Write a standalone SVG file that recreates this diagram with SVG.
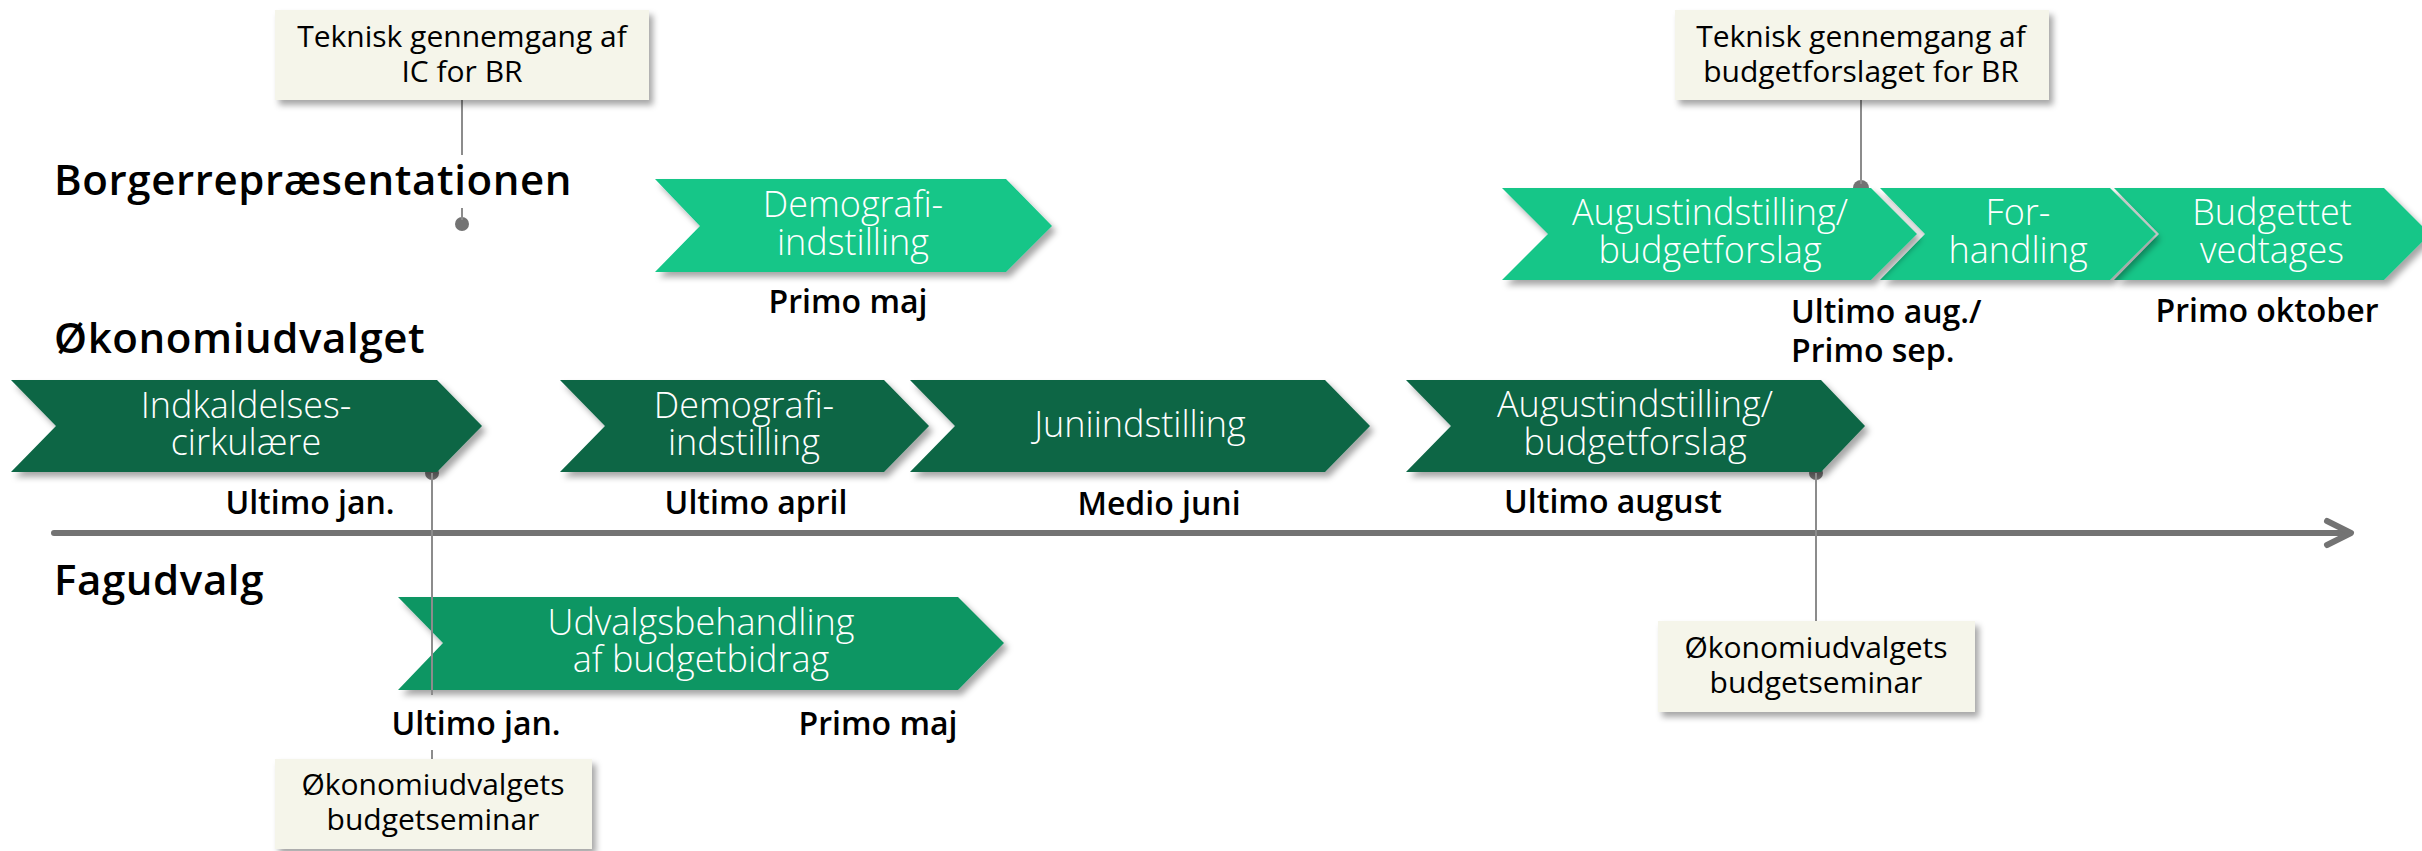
<svg xmlns="http://www.w3.org/2000/svg" width="2422" height="851" viewBox="0 0 2422 851">
<defs>
<filter id="sh" x="-10%" y="-20%" width="125%" height="150%">
<feDropShadow dx="4" dy="5" stdDeviation="3" flood-color="#000" flood-opacity="0.35"/>
</filter>
<style>
.lane{font-family:"Open Sans","Noto Sans",sans-serif;font-weight:600;font-size:42px;letter-spacing:0.6px;fill:#000}
.ct{font-family:"Open Sans","Noto Sans",sans-serif;font-weight:300;font-size:36px;fill:#fff;text-anchor:middle}
.dt{font-family:"Open Sans","Noto Sans",sans-serif;font-weight:600;font-size:32px;fill:#000;text-anchor:middle}
.bt{font-family:"Open Sans","Noto Sans",sans-serif;font-weight:400;font-size:30px;fill:#000;text-anchor:middle}
.dk{fill:#0B6645;filter:url(#sh)}
.lt{fill:#12C688;filter:url(#sh)}
.md{fill:#0F9664;filter:url(#sh)}
.box{fill:#F5F5EA;filter:url(#sh)}
.cn{stroke:#8C8C8C;stroke-width:2;fill:none}
.dot{fill:#737373}
.axis{stroke:#737373;stroke-width:6;fill:none;stroke-linecap:round;stroke-linejoin:round}
</style>
</defs>
<rect width="2422" height="851" fill="#fff"/>

<g id="lanes">
<text class="lane" x="54" y="195">Borgerrepræsentationen</text>
<text class="lane" x="54" y="353">Økonomiudvalget</text>
<text class="lane" x="54" y="595">Fagudvalg</text>
</g>

<g id="axis">
<line class="axis" x1="54" y1="533" x2="2348" y2="533"/>
<polyline class="axis" points="2327,521 2351,533 2327,545"/>
</g>

<g id="dots">
<circle class="dot" cx="432" cy="473" r="7"/>
<circle class="dot" cx="1816" cy="473" r="7"/>
<circle class="dot" cx="1861" cy="188" r="8"/>
<circle class="dot" cx="462" cy="224" r="7"/>
</g>

<g id="n-indkaldelse">
<polygon class="dk" points="11,380 437,380 482,426 437,472 11,472 56,426"/>
<text class="ct"><tspan x="246" y="418">Indkaldelses-</tspan><tspan x="246" y="455">cirkulære</tspan></text>
<text class="dt" x="310" y="514">Ultimo jan.</text>
</g>
<g id="n-demografi-oeu">
<polygon class="dk" points="560,380 884,380 929,426 884,472 560,472 605,426"/>
<text class="ct"><tspan x="744" y="418">Demografi-</tspan><tspan x="744" y="455">indstilling</tspan></text>
<text class="dt" x="756" y="514">Ultimo april</text>
</g>
<g id="n-juni">
<polygon class="dk" points="910,380 1325,380 1370,426 1325,472 910,472 955,426"/>
<text class="ct" x="1140" y="437">Juniindstilling</text>
<text class="dt" x="1159" y="515">Medio juni</text>
</g>
<g id="n-august-oeu">
<polygon class="dk" points="1406,380 1821,380 1865,426 1821,472 1406,472 1451,426"/>
<text class="ct"><tspan x="1635" y="417">Augustindstilling/</tspan><tspan x="1635" y="455">budgetforslag</tspan></text>
<text class="dt" x="1613" y="513">Ultimo august</text>
</g>

<g id="n-demografi-br">
<polygon class="lt" points="655,179 1006,179 1052,226 1006,272 655,272 700,226"/>
<text class="ct"><tspan x="853" y="217">Demografi-</tspan><tspan x="853" y="255">indstilling</tspan></text>
<text class="dt" x="848" y="313">Primo maj</text>
</g>
<g id="n-budgettet">
<polygon class="lt" points="2114,188 2384,188 2430,234 2384,280 2114,280 2159,234"/>
<text class="ct"><tspan x="2272" y="225">Budgettet</tspan><tspan x="2272" y="263">vedtages</tspan></text>
<text class="dt" x="2267" y="322">Primo oktober</text>
</g>
<g id="n-forhandling">
<polygon class="lt" points="1880,188 2110,188 2156,234 2110,280 1880,280 1925,234"/>
<text class="ct"><tspan x="2018" y="225">For-</tspan><tspan x="2018" y="263">handling</tspan></text>
</g>
<g id="n-august-br">
<polygon class="lt" points="1502,188 1871,188 1917,234 1871,280 1502,280 1548,234"/>
<text class="ct"><tspan x="1710" y="225">Augustindstilling/</tspan><tspan x="1710" y="263">budgetforslag</tspan></text>
<text class="dt" style="text-anchor:start"><tspan x="1791" y="323">Ultimo aug./</tspan><tspan x="1791" y="362">Primo sep.</tspan></text>
</g>

<g id="n-udvalgsbehandling">
<polygon class="md" points="398,597 958,597 1004,643 958,690 398,690 443,643"/>
<text class="ct"><tspan x="701" y="635">Udvalgsbehandling</tspan><tspan x="701" y="672">af budgetbidrag</tspan></text>
<text class="dt" x="476" y="735">Ultimo jan.</text>
<text class="dt" x="878" y="735">Primo maj</text>
</g>

<g id="connectors">
<line class="cn" x1="462" y1="100" x2="462" y2="155"/>
<line class="cn" x1="462" y1="208" x2="462" y2="220"/>
<line class="cn" x1="1861" y1="100" x2="1861" y2="184"/>
<line class="cn" x1="432" y1="473" x2="432" y2="695"/>
<line class="cn" x1="432" y1="750" x2="432" y2="759"/>
<line class="cn" x1="1816" y1="473" x2="1816" y2="621"/>
</g>

<g id="n-teknisk-ic">
<rect class="box" x="275" y="10" width="374" height="90"/>
<text class="bt"><tspan x="462" y="47">Teknisk gennemgang af</tspan><tspan x="462" y="82">IC for BR</tspan></text>
</g>
<g id="n-teknisk-budget">
<rect class="box" x="1675" y="10" width="374" height="90"/>
<text class="bt"><tspan x="1861" y="47">Teknisk gennemgang af</tspan><tspan x="1861" y="82">budgetforslaget for BR</tspan></text>
</g>
<g id="n-seminar-aug">
<rect class="box" x="1658" y="621" width="317" height="91"/>
<text class="bt"><tspan x="1816" y="658">Økonomiudvalgets</tspan><tspan x="1816" y="693">budgetseminar</tspan></text>
</g>
<g id="n-seminar-jan">
<rect class="box" x="275" y="759" width="317" height="90"/>
<text class="bt"><tspan x="433" y="795">Økonomiudvalgets</tspan><tspan x="433" y="830">budgetseminar</tspan></text>
</g>
</svg>
